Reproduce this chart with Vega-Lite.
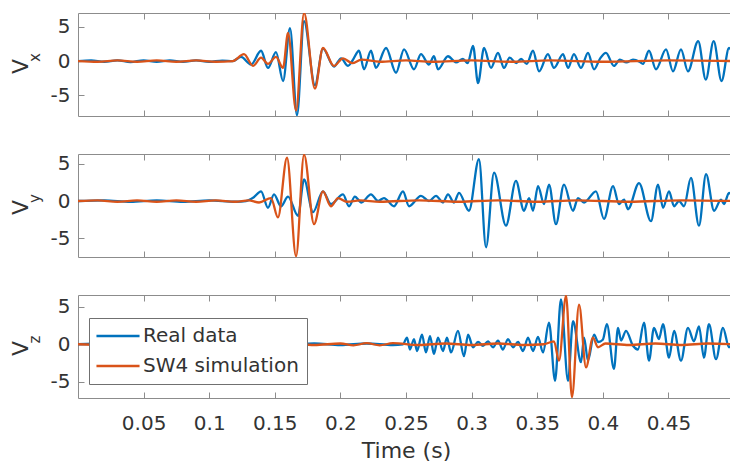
{
  "$schema": "https://vega.github.io/schema/vega-lite/v6.json",
  "padding": {"left": 8, "top": 12, "right": 0, "bottom": 0},
  "bounds": "flush",
  "spacing": 38,
  "datasets": {
    "d": [
      {"c":"x","s":"Real data","t":0,"v":0},{"c":"x","s":"Real data","t":0.01,"v":0.1},{"c":"x","s":"Real data","t":0.02,"v":-0.1},{"c":"x","s":"Real data","t":0.03,"v":0.1},{"c":"x","s":"Real data","t":0.04,"v":-0.15},{"c":"x","s":"Real data","t":0.05,"v":0.1},{"c":"x","s":"Real data","t":0.06,"v":-0.1},{"c":"x","s":"Real data","t":0.07,"v":0.1},{"c":"x","s":"Real data","t":0.08,"v":-0.1},{"c":"x","s":"Real data","t":0.09,"v":0.1},{"c":"x","s":"Real data","t":0.1,"v":-0.1},{"c":"x","s":"Real data","t":0.11,"v":0.05},{"c":"x","s":"Real data","t":0.118,"v":0},
      {"c":"x","s":"Real data","t":0.1242,"v":0.6},{"c":"x","s":"Real data","t":0.1319,"v":-0.5},{"c":"x","s":"Real data","t":0.1395,"v":1.5},{"c":"x","s":"Real data","t":0.1448,"v":-1.0},{"c":"x","s":"Real data","t":0.1509,"v":1.3},{"c":"x","s":"Real data","t":0.1563,"v":-2.9},{"c":"x","s":"Real data","t":0.1616,"v":4.8},{"c":"x","s":"Real data","t":0.1669,"v":-7.9},{"c":"x","s":"Real data","t":0.1723,"v":5.8},{"c":"x","s":"Real data","t":0.1806,"v":-3.5},{"c":"x","s":"Real data","t":0.1867,"v":1.8},{"c":"x","s":"Real data","t":0.1951,"v":-0.8},{"c":"x","s":"Real data","t":0.2005,"v":0.4},{"c":"x","s":"Real data","t":0.2058,"v":-0.7},{"c":"x","s":"Real data","t":0.2096,"v":0.2},{"c":"x","s":"Real data","t":0.2142,"v":1.5},{"c":"x","s":"Real data","t":0.218,"v":-1.2},{"c":"x","s":"Real data","t":0.2233,"v":1.5},{"c":"x","s":"Real data","t":0.2271,"v":-1.0},{"c":"x","s":"Real data","t":0.2348,"v":1.9},{"c":"x","s":"Real data","t":0.2424,"v":-1.7},{"c":"x","s":"Real data","t":0.2485,"v":1.7},{"c":"x","s":"Real data","t":0.2561,"v":-1.2},{"c":"x","s":"Real data","t":0.2614,"v":1.0},{"c":"x","s":"Real data","t":0.2675,"v":-0.5},{"c":"x","s":"Real data","t":0.2713,"v":0.7},{"c":"x","s":"Real data","t":0.2744,"v":-1.2},{"c":"x","s":"Real data","t":0.282,"v":0.7},{"c":"x","s":"Real data","t":0.2881,"v":-0.2},{"c":"x","s":"Real data","t":0.2934,"v":0.3},{"c":"x","s":"Real data","t":0.297,"v":-0.3},{"c":"x","s":"Real data","t":0.3011,"v":2.2},{"c":"x","s":"Real data","t":0.3049,"v":-3.2},{"c":"x","s":"Real data","t":0.3095,"v":1.9},{"c":"x","s":"Real data","t":0.3148,"v":-1.0},{"c":"x","s":"Real data","t":0.3201,"v":1.2},{"c":"x","s":"Real data","t":0.3247,"v":-1.0},{"c":"x","s":"Real data","t":0.329,"v":0.5},{"c":"x","s":"Real data","t":0.334,"v":-0.3},{"c":"x","s":"Real data","t":0.3377,"v":0.3},{"c":"x","s":"Real data","t":0.342,"v":-0.4},{"c":"x","s":"Real data","t":0.3468,"v":1.5},{"c":"x","s":"Real data","t":0.3514,"v":-1.5},{"c":"x","s":"Real data","t":0.3582,"v":1.0},{"c":"x","s":"Real data","t":0.3628,"v":-1.0},{"c":"x","s":"Real data","t":0.3697,"v":1.0},{"c":"x","s":"Real data","t":0.3735,"v":-1.0},{"c":"x","s":"Real data","t":0.378,"v":1.0},{"c":"x","s":"Real data","t":0.3834,"v":-1.0},{"c":"x","s":"Real data","t":0.3887,"v":1.2},{"c":"x","s":"Real data","t":0.3933,"v":-1.2},{"c":"x","s":"Real data","t":0.398,"v":0.4},{"c":"x","s":"Real data","t":0.4024,"v":1.2},{"c":"x","s":"Real data","t":0.4085,"v":-0.7},{"c":"x","s":"Real data","t":0.413,"v":0.2},{"c":"x","s":"Real data","t":0.418,"v":-0.2},{"c":"x","s":"Real data","t":0.423,"v":0.2},{"c":"x","s":"Real data","t":0.428,"v":-0.1},{"c":"x","s":"Real data","t":0.4306,"v":-0.4},{"c":"x","s":"Real data","t":0.4352,"v":1.5},{"c":"x","s":"Real data","t":0.4405,"v":-1.2},{"c":"x","s":"Real data","t":0.4482,"v":1.7},{"c":"x","s":"Real data","t":0.4535,"v":-1.5},{"c":"x","s":"Real data","t":0.4596,"v":1.7},{"c":"x","s":"Real data","t":0.4649,"v":-1.5},{"c":"x","s":"Real data","t":0.4727,"v":2.9},{"c":"x","s":"Real data","t":0.4785,"v":-2.7},{"c":"x","s":"Real data","t":0.4845,"v":2.9},{"c":"x","s":"Real data","t":0.4905,"v":-2.9},{"c":"x","s":"Real data","t":0.4962,"v":1.9},{"c":"x","s":"Real data","t":0.5,"v":0.5},

      {"c":"x","s":"SW4 simulation","t":0,"v":0},{"c":"x","s":"SW4 simulation","t":0.015,"v":-0.1},{"c":"x","s":"SW4 simulation","t":0.03,"v":0.1},{"c":"x","s":"SW4 simulation","t":0.045,"v":-0.1},{"c":"x","s":"SW4 simulation","t":0.06,"v":0.1},{"c":"x","s":"SW4 simulation","t":0.075,"v":-0.1},{"c":"x","s":"SW4 simulation","t":0.09,"v":0.1},{"c":"x","s":"SW4 simulation","t":0.105,"v":-0.1},{"c":"x","s":"SW4 simulation","t":0.118,"v":0},{"c":"x","s":"SW4 simulation","t":0.1265,"v":1.0},{"c":"x","s":"SW4 simulation","t":0.1334,"v":-0.7},{"c":"x","s":"SW4 simulation","t":0.1395,"v":0.5},{"c":"x","s":"SW4 simulation","t":0.1448,"v":-0.4},{"c":"x","s":"SW4 simulation","t":0.1509,"v":0.6},{"c":"x","s":"SW4 simulation","t":0.1563,"v":-1.0},{"c":"x","s":"SW4 simulation","t":0.1601,"v":4.1},{"c":"x","s":"SW4 simulation","t":0.1662,"v":-7.2},{"c":"x","s":"SW4 simulation","t":0.1723,"v":7.0},{"c":"x","s":"SW4 simulation","t":0.1806,"v":-4.0},{"c":"x","s":"SW4 simulation","t":0.1867,"v":1.9},{"c":"x","s":"SW4 simulation","t":0.1951,"v":-0.7},{"c":"x","s":"SW4 simulation","t":0.202,"v":0.4},{"c":"x","s":"SW4 simulation","t":0.209,"v":-0.3},{"c":"x","s":"SW4 simulation","t":0.216,"v":0.2},{"c":"x","s":"SW4 simulation","t":0.23,"v":-0.1},{"c":"x","s":"SW4 simulation","t":0.25,"v":0.1},{"c":"x","s":"SW4 simulation","t":0.27,"v":-0.1},{"c":"x","s":"SW4 simulation","t":0.3,"v":0.1},{"c":"x","s":"SW4 simulation","t":0.33,"v":-0.1},{"c":"x","s":"SW4 simulation","t":0.36,"v":0.1},{"c":"x","s":"SW4 simulation","t":0.4,"v":-0.1},{"c":"x","s":"SW4 simulation","t":0.45,"v":0.1},{"c":"x","s":"SW4 simulation","t":0.5,"v":0},

      {"c":"y","s":"Real data","t":0,"v":0},{"c":"y","s":"Real data","t":0.02,"v":0.1},{"c":"y","s":"Real data","t":0.04,"v":-0.1},{"c":"y","s":"Real data","t":0.06,"v":0.1},{"c":"y","s":"Real data","t":0.08,"v":-0.1},{"c":"y","s":"Real data","t":0.1,"v":0.1},{"c":"y","s":"Real data","t":0.12,"v":-0.1},{"c":"y","s":"Real data","t":0.128,"v":0},{"c":"y","s":"Real data","t":0.134,"v":0.5},{"c":"y","s":"Real data","t":0.1395,"v":1.3},{"c":"y","s":"Real data","t":0.1448,"v":-0.9},{"c":"y","s":"Real data","t":0.1494,"v":0.9},{"c":"y","s":"Real data","t":0.1547,"v":-0.7},{"c":"y","s":"Real data","t":0.1601,"v":0.6},{"c":"y","s":"Real data","t":0.1677,"v":-2.0},{"c":"y","s":"Real data","t":0.1723,"v":2.9},{"c":"y","s":"Real data","t":0.1791,"v":-1.5},{"c":"y","s":"Real data","t":0.1867,"v":1.3},{"c":"y","s":"Real data","t":0.1928,"v":-0.4},{"c":"y","s":"Real data","t":0.202,"v":0.9},{"c":"y","s":"Real data","t":0.2066,"v":-0.7},{"c":"y","s":"Real data","t":0.211,"v":0.6},{"c":"y","s":"Real data","t":0.216,"v":-0.2},{"c":"y","s":"Real data","t":0.2233,"v":0.9},{"c":"y","s":"Real data","t":0.2287,"v":0},{"c":"y","s":"Real data","t":0.2332,"v":0.4},{"c":"y","s":"Real data","t":0.2409,"v":-0.7},{"c":"y","s":"Real data","t":0.2477,"v":1.3},{"c":"y","s":"Real data","t":0.2523,"v":-0.7},{"c":"y","s":"Real data","t":0.2614,"v":0.7},{"c":"y","s":"Real data","t":0.2675,"v":0},{"c":"y","s":"Real data","t":0.2729,"v":0.7},{"c":"y","s":"Real data","t":0.2782,"v":-0.2},{"c":"y","s":"Real data","t":0.282,"v":0.9},{"c":"y","s":"Real data","t":0.2866,"v":-0.2},{"c":"y","s":"Real data","t":0.2904,"v":1.1},{"c":"y","s":"Real data","t":0.298,"v":-1.3},{"c":"y","s":"Real data","t":0.3056,"v":5.6},{"c":"y","s":"Real data","t":0.311,"v":-6.2},{"c":"y","s":"Real data","t":0.3171,"v":3.8},{"c":"y","s":"Real data","t":0.3262,"v":-3.3},{"c":"y","s":"Real data","t":0.3338,"v":2.7},{"c":"y","s":"Real data","t":0.3399,"v":-1.3},{"c":"y","s":"Real data","t":0.3438,"v":0.4},{"c":"y","s":"Real data","t":0.3468,"v":-1.3},{"c":"y","s":"Real data","t":0.3506,"v":2.0},{"c":"y","s":"Real data","t":0.3552,"v":-0.4},{"c":"y","s":"Real data","t":0.359,"v":2.2},{"c":"y","s":"Real data","t":0.3643,"v":-3.1},{"c":"y","s":"Real data","t":0.3704,"v":2.2},{"c":"y","s":"Real data","t":0.3773,"v":-1.3},{"c":"y","s":"Real data","t":0.3811,"v":0.4},{"c":"y","s":"Real data","t":0.3857,"v":-0.2},{"c":"y","s":"Real data","t":0.3948,"v":1.3},{"c":"y","s":"Real data","t":0.4009,"v":-2.4},{"c":"y","s":"Real data","t":0.4078,"v":2.0},{"c":"y","s":"Real data","t":0.4123,"v":-0.4},{"c":"y","s":"Real data","t":0.4162,"v":0.2},{"c":"y","s":"Real data","t":0.4192,"v":-1.1},{"c":"y","s":"Real data","t":0.4276,"v":2.4},{"c":"y","s":"Real data","t":0.4367,"v":-2.7},{"c":"y","s":"Real data","t":0.4421,"v":2.2},{"c":"y","s":"Real data","t":0.4459,"v":-0.9},{"c":"y","s":"Real data","t":0.4505,"v":1.3},{"c":"y","s":"Real data","t":0.4543,"v":-0.7},{"c":"y","s":"Real data","t":0.4581,"v":0},{"c":"y","s":"Real data","t":0.4619,"v":-0.7},{"c":"y","s":"Real data","t":0.4672,"v":3.1},{"c":"y","s":"Real data","t":0.4733,"v":-3.3},{"c":"y","s":"Real data","t":0.4787,"v":3.6},{"c":"y","s":"Real data","t":0.4848,"v":-1.3},{"c":"y","s":"Real data","t":0.4901,"v":0.2},{"c":"y","s":"Real data","t":0.4924,"v":-0.4},{"c":"y","s":"Real data","t":0.4962,"v":1.1},{"c":"y","s":"Real data","t":0.5,"v":0},

      {"c":"y","s":"SW4 simulation","t":0,"v":0},{"c":"y","s":"SW4 simulation","t":0.015,"v":0.1},{"c":"y","s":"SW4 simulation","t":0.03,"v":-0.1},{"c":"y","s":"SW4 simulation","t":0.045,"v":0.1},{"c":"y","s":"SW4 simulation","t":0.06,"v":-0.1},{"c":"y","s":"SW4 simulation","t":0.075,"v":0.1},{"c":"y","s":"SW4 simulation","t":0.09,"v":-0.1},{"c":"y","s":"SW4 simulation","t":0.105,"v":0.1},{"c":"y","s":"SW4 simulation","t":0.12,"v":-0.1},{"c":"y","s":"SW4 simulation","t":0.13,"v":0.1},{"c":"y","s":"SW4 simulation","t":0.138,"v":-0.2},{"c":"y","s":"SW4 simulation","t":0.1471,"v":0.4},{"c":"y","s":"SW4 simulation","t":0.1524,"v":-2.2},{"c":"y","s":"SW4 simulation","t":0.1593,"v":5.8},{"c":"y","s":"SW4 simulation","t":0.1662,"v":-7.4},{"c":"y","s":"SW4 simulation","t":0.1723,"v":6.2},{"c":"y","s":"SW4 simulation","t":0.1799,"v":-3.1},{"c":"y","s":"SW4 simulation","t":0.1867,"v":1.3},{"c":"y","s":"SW4 simulation","t":0.1928,"v":-0.7},{"c":"y","s":"SW4 simulation","t":0.1982,"v":0.4},{"c":"y","s":"SW4 simulation","t":0.205,"v":-0.1},{"c":"y","s":"SW4 simulation","t":0.215,"v":0.1},{"c":"y","s":"SW4 simulation","t":0.23,"v":-0.1},{"c":"y","s":"SW4 simulation","t":0.26,"v":0.1},{"c":"y","s":"SW4 simulation","t":0.29,"v":-0.1},{"c":"y","s":"SW4 simulation","t":0.32,"v":0.1},{"c":"y","s":"SW4 simulation","t":0.35,"v":-0.1},{"c":"y","s":"SW4 simulation","t":0.38,"v":0.1},{"c":"y","s":"SW4 simulation","t":0.42,"v":-0.1},{"c":"y","s":"SW4 simulation","t":0.46,"v":0.1},{"c":"y","s":"SW4 simulation","t":0.5,"v":0},

      {"c":"z","s":"Real data","t":0,"v":0},{"c":"z","s":"Real data","t":0.02,"v":0.1},{"c":"z","s":"Real data","t":0.04,"v":-0.1},{"c":"z","s":"Real data","t":0.06,"v":0.1},{"c":"z","s":"Real data","t":0.08,"v":-0.1},{"c":"z","s":"Real data","t":0.1,"v":0.1},{"c":"z","s":"Real data","t":0.12,"v":-0.1},{"c":"z","s":"Real data","t":0.14,"v":0.1},{"c":"z","s":"Real data","t":0.16,"v":-0.1},{"c":"z","s":"Real data","t":0.18,"v":0.1},{"c":"z","s":"Real data","t":0.2,"v":-0.1},{"c":"z","s":"Real data","t":0.22,"v":0.1},{"c":"z","s":"Real data","t":0.24,"v":-0.1},{"c":"z","s":"Real data","t":0.2477,"v":0},{"c":"z","s":"Real data","t":0.2508,"v":0.9},{"c":"z","s":"Real data","t":0.253,"v":-0.7},{"c":"z","s":"Real data","t":0.2561,"v":0.7},{"c":"z","s":"Real data","t":0.2584,"v":-0.9},{"c":"z","s":"Real data","t":0.2622,"v":1.3},{"c":"z","s":"Real data","t":0.2652,"v":-1.1},{"c":"z","s":"Real data","t":0.2683,"v":1.1},{"c":"z","s":"Real data","t":0.2713,"v":-1.3},{"c":"z","s":"Real data","t":0.2744,"v":0.9},{"c":"z","s":"Real data","t":0.2782,"v":-0.9},{"c":"z","s":"Real data","t":0.2812,"v":0.9},{"c":"z","s":"Real data","t":0.2843,"v":-1.1},{"c":"z","s":"Real data","t":0.2896,"v":1.8},{"c":"z","s":"Real data","t":0.2942,"v":-1.6},{"c":"z","s":"Real data","t":0.2973,"v":1.3},{"c":"z","s":"Real data","t":0.3011,"v":-0.4},{"c":"z","s":"Real data","t":0.3049,"v":0.3},{"c":"z","s":"Real data","t":0.3087,"v":-0.2},{"c":"z","s":"Real data","t":0.3125,"v":0.4},{"c":"z","s":"Real data","t":0.3163,"v":-0.4},{"c":"z","s":"Real data","t":0.3201,"v":0.5},{"c":"z","s":"Real data","t":0.3239,"v":-0.7},{"c":"z","s":"Real data","t":0.3277,"v":0.7},{"c":"z","s":"Real data","t":0.3316,"v":-0.4},{"c":"z","s":"Real data","t":0.3354,"v":0.3},{"c":"z","s":"Real data","t":0.3392,"v":-0.9},{"c":"z","s":"Real data","t":0.343,"v":0.9},{"c":"z","s":"Real data","t":0.3468,"v":-0.9},{"c":"z","s":"Real data","t":0.3506,"v":1.0},{"c":"z","s":"Real data","t":0.3544,"v":-1.1},{"c":"z","s":"Real data","t":0.359,"v":2.9},{"c":"z","s":"Real data","t":0.3636,"v":-4.9},{"c":"z","s":"Real data","t":0.3681,"v":6.0},{"c":"z","s":"Real data","t":0.3735,"v":-4.9},{"c":"z","s":"Real data","t":0.3773,"v":3.1},{"c":"z","s":"Real data","t":0.3834,"v":-2.4},{"c":"z","s":"Real data","t":0.3857,"v":0.9},{"c":"z","s":"Real data","t":0.3887,"v":-2.2},{"c":"z","s":"Real data","t":0.3933,"v":1.3},{"c":"z","s":"Real data","t":0.3965,"v":0.3},{"c":"z","s":"Real data","t":0.4,"v":0.6},{"c":"z","s":"Real data","t":0.4031,"v":2.7},{"c":"z","s":"Real data","t":0.4085,"v":-3.3},{"c":"z","s":"Real data","t":0.4116,"v":2.2},{"c":"z","s":"Real data","t":0.4139,"v":0.5},{"c":"z","s":"Real data","t":0.4177,"v":1.8},{"c":"z","s":"Real data","t":0.423,"v":-0.2},{"c":"z","s":"Real data","t":0.4268,"v":-0.7},{"c":"z","s":"Real data","t":0.4314,"v":2.9},{"c":"z","s":"Real data","t":0.4352,"v":-2.2},{"c":"z","s":"Real data","t":0.439,"v":2.2},{"c":"z","s":"Real data","t":0.4428,"v":0.7},{"c":"z","s":"Real data","t":0.4459,"v":2.7},{"c":"z","s":"Real data","t":0.4505,"v":-1.8},{"c":"z","s":"Real data","t":0.4543,"v":1.8},{"c":"z","s":"Real data","t":0.4596,"v":-2.2},{"c":"z","s":"Real data","t":0.4649,"v":2.2},{"c":"z","s":"Real data","t":0.4695,"v":0.4},{"c":"z","s":"Real data","t":0.4733,"v":2.4},{"c":"z","s":"Real data","t":0.4771,"v":-1.8},{"c":"z","s":"Real data","t":0.4809,"v":2.7},{"c":"z","s":"Real data","t":0.4863,"v":-2.0},{"c":"z","s":"Real data","t":0.4916,"v":2.2},{"c":"z","s":"Real data","t":0.4962,"v":-0.4},{"c":"z","s":"Real data","t":0.5,"v":1.0},

      {"c":"z","s":"SW4 simulation","t":0,"v":0},{"c":"z","s":"SW4 simulation","t":0.02,"v":-0.1},{"c":"z","s":"SW4 simulation","t":0.04,"v":0.1},{"c":"z","s":"SW4 simulation","t":0.06,"v":-0.1},{"c":"z","s":"SW4 simulation","t":0.08,"v":0.1},{"c":"z","s":"SW4 simulation","t":0.1,"v":-0.1},{"c":"z","s":"SW4 simulation","t":0.12,"v":0.1},{"c":"z","s":"SW4 simulation","t":0.14,"v":-0.1},{"c":"z","s":"SW4 simulation","t":0.16,"v":0.1},{"c":"z","s":"SW4 simulation","t":0.18,"v":-0.1},{"c":"z","s":"SW4 simulation","t":0.2,"v":0.1},{"c":"z","s":"SW4 simulation","t":0.21,"v":-0.15},{"c":"z","s":"SW4 simulation","t":0.22,"v":0.15},{"c":"z","s":"SW4 simulation","t":0.23,"v":-0.15},{"c":"z","s":"SW4 simulation","t":0.24,"v":0.15},{"c":"z","s":"SW4 simulation","t":0.26,"v":-0.1},{"c":"z","s":"SW4 simulation","t":0.28,"v":0.1},{"c":"z","s":"SW4 simulation","t":0.3,"v":-0.1},{"c":"z","s":"SW4 simulation","t":0.32,"v":0.1},{"c":"z","s":"SW4 simulation","t":0.34,"v":-0.1},{"c":"z","s":"SW4 simulation","t":0.3552,"v":0},{"c":"z","s":"SW4 simulation","t":0.3628,"v":0.4},{"c":"z","s":"SW4 simulation","t":0.3666,"v":-2.2},{"c":"z","s":"SW4 simulation","t":0.372,"v":6.5},{"c":"z","s":"SW4 simulation","t":0.3765,"v":-7.1},{"c":"z","s":"SW4 simulation","t":0.3819,"v":5.3},{"c":"z","s":"SW4 simulation","t":0.3872,"v":-3.1},{"c":"z","s":"SW4 simulation","t":0.3925,"v":0.9},{"c":"z","s":"SW4 simulation","t":0.3963,"v":-0.4},{"c":"z","s":"SW4 simulation","t":0.402,"v":0.1},{"c":"z","s":"SW4 simulation","t":0.42,"v":-0.1},{"c":"z","s":"SW4 simulation","t":0.44,"v":0.1},{"c":"z","s":"SW4 simulation","t":0.46,"v":-0.1},{"c":"z","s":"SW4 simulation","t":0.48,"v":0.1},{"c":"z","s":"SW4 simulation","t":0.5,"v":0}
    ]
  },
  "vconcat": [
    {
      "width": 656, "height": 103,
      "layer": [
        {
          "data": {"name": "d"},
          "transform": [{"filter": "datum.c === 'x' && datum.s === 'Real data'"}],
          "mark": {"type": "line", "interpolate": "monotone", "strokeWidth": 2.3, "clip": true},
          "encoding": {
            "x": {"field": "t", "type": "quantitative", "scale": {"domain": [0, 0.5], "nice": false, "zero": false}, "axis": {"orient": "bottom", "values": [0.05,0.1,0.15,0.2,0.25,0.3,0.35,0.4,0.45], "labels": false, "title": null}},
            "y": {"field": "v", "type": "quantitative", "scale": {"domain": [-8, 7], "nice": false, "zero": false}, "axis": {"orient": "left", "values": [-5,0,5], "labelExpr": "'' + datum.value", "labelPadding": 14, "title": "V", "titleFontSize": 22, "titleX": -51, "titleY": 53, "titleAngle": -90, "titleAlign": "center", "titleBaseline": "alphabetic"}},
            "color": {"value": "#0072BD"}
          }
        },
        {
          "data": {"name": "d"},
          "transform": [{"filter": "datum.c === 'x' && datum.s === 'SW4 simulation'"}],
          "mark": {"type": "line", "interpolate": "monotone", "strokeWidth": 2.3, "clip": true},
          "encoding": {
            "x": {"field": "t", "type": "quantitative", "scale": {"domain": [0, 0.5], "nice": false, "zero": false}, "axis": {"orient": "top", "values": [0.05,0.1,0.15,0.2,0.25,0.3,0.35,0.4,0.45], "labels": false, "title": null}},
            "y": {"field": "v", "type": "quantitative", "scale": {"domain": [-8, 7], "nice": false, "zero": false}, "axis": {"orient": "left", "labels": false, "ticks": false, "title": "x", "titleFontSize": 15, "titleX": -39, "titleY": 44, "titleAngle": -90, "titleAlign": "center", "titleBaseline": "alphabetic"}},
            "color": {"value": "#D95319"}
          }
        }
      ],
      "resolve": {"scale": {"y": "independent"}, "axis": {"x": "independent", "y": "independent"}}
    },
    {
      "width": 656, "height": 103,
      "layer": [
        {
          "data": {"name": "d"},
          "transform": [{"filter": "datum.c === 'y' && datum.s === 'Real data'"}],
          "mark": {"type": "line", "interpolate": "monotone", "strokeWidth": 2.3, "clip": true},
          "encoding": {
            "x": {"field": "t", "type": "quantitative", "scale": {"domain": [0, 0.5], "nice": false, "zero": false}, "axis": {"orient": "bottom", "values": [0.05,0.1,0.15,0.2,0.25,0.3,0.35,0.4,0.45], "labels": false, "title": null}},
            "y": {"field": "v", "type": "quantitative", "scale": {"domain": [-7.5, 6.3], "nice": false, "zero": false}, "axis": {"orient": "left", "values": [-5,0,5], "labelExpr": "'' + datum.value", "labelPadding": 14, "title": "V", "titleFontSize": 22, "titleX": -51, "titleY": 53, "titleAngle": -90, "titleAlign": "center", "titleBaseline": "alphabetic"}},
            "color": {"value": "#0072BD"}
          }
        },
        {
          "data": {"name": "d"},
          "transform": [{"filter": "datum.c === 'y' && datum.s === 'SW4 simulation'"}],
          "mark": {"type": "line", "interpolate": "monotone", "strokeWidth": 2.3, "clip": true},
          "encoding": {
            "x": {"field": "t", "type": "quantitative", "scale": {"domain": [0, 0.5], "nice": false, "zero": false}, "axis": {"orient": "top", "values": [0.05,0.1,0.15,0.2,0.25,0.3,0.35,0.4,0.45], "labels": false, "title": null}},
            "y": {"field": "v", "type": "quantitative", "scale": {"domain": [-7.5, 6.3], "nice": false, "zero": false}, "axis": {"orient": "left", "labels": false, "ticks": false, "title": "y", "titleFontSize": 15, "titleX": -39, "titleY": 44, "titleAngle": -90, "titleAlign": "center", "titleBaseline": "alphabetic"}},
            "color": {"value": "#D95319"}
          }
        }
      ],
      "resolve": {"scale": {"y": "independent"}, "axis": {"x": "independent", "y": "independent"}}
    },
    {
      "width": 656, "height": 103,
      "layer": [
        {
          "data": {"name": "d"},
          "transform": [{"filter": "datum.c === 'z' && datum.s === 'Real data'"}],
          "mark": {"type": "line", "interpolate": "monotone", "strokeWidth": 2.3, "clip": true},
          "encoding": {
            "x": {"field": "t", "type": "quantitative", "scale": {"domain": [0, 0.5], "nice": false, "zero": false}, "axis": {"orient": "bottom", "values": [0.05,0.1,0.15,0.2,0.25,0.3,0.35,0.4,0.45], "labelExpr": "'' + datum.value", "labelPadding": 21, "title": "Time (s)", "titleFontSize": 22, "titlePadding": 7}},
            "y": {"field": "v", "type": "quantitative", "scale": {"domain": [-7.2, 6.6], "nice": false, "zero": false}, "axis": {"orient": "left", "values": [-5,0,5], "labelExpr": "'' + datum.value", "labelPadding": 14, "title": "V", "titleFontSize": 22, "titleX": -51, "titleY": 53, "titleAngle": -90, "titleAlign": "center", "titleBaseline": "alphabetic"}},
            "color": {"field": "s", "type": "nominal", "scale": {"domain": ["Real data", "SW4 simulation"], "range": ["#0072BD", "#D95319"]}}
          }
        },
        {
          "data": {"name": "d"},
          "transform": [{"filter": "datum.c === 'z' && datum.s === 'SW4 simulation'"}],
          "mark": {"type": "line", "interpolate": "monotone", "strokeWidth": 2.3, "clip": true},
          "encoding": {
            "x": {"field": "t", "type": "quantitative", "scale": {"domain": [0, 0.5], "nice": false, "zero": false}, "axis": {"orient": "top", "values": [0.05,0.1,0.15,0.2,0.25,0.3,0.35,0.4,0.45], "labels": false, "title": null}},
            "y": {"field": "v", "type": "quantitative", "scale": {"domain": [-7.2, 6.6], "nice": false, "zero": false}, "axis": {"orient": "left", "labels": false, "ticks": false, "title": "z", "titleFontSize": 15, "titleX": -39, "titleY": 44, "titleAngle": -90, "titleAlign": "center", "titleBaseline": "alphabetic"}},
            "color": {"field": "s", "type": "nominal", "scale": {"domain": ["Real data", "SW4 simulation"], "range": ["#0072BD", "#D95319"]}}
          }
        }
      ],
      "resolve": {"scale": {"y": "independent"}, "axis": {"x": "independent", "y": "independent"}}
    }
  ],
  "resolve": {"legend": {"color": "independent"}},
  "config": {
    "font": "DejaVu Sans",
    "view": {"stroke": "#8c8c8c", "strokeWidth": 1},
    "axis": {"domain": false, "grid": false, "tickColor": "#8c8c8c", "tickSize": -6, "tickWidth": 1, "labelColor": "#333333", "titleColor": "#333333", "labelFont": "DejaVu Sans", "titleFont": "DejaVu Sans", "labelFontSize": 20, "titleFontWeight": "normal"},
    "legend": {"orient": "none", "legendX": 11, "legendY": 23, "title": null, "fillColor": "white", "strokeColor": "#707070", "padding": 8, "labelFont": "DejaVu Sans", "labelFontSize": 20, "labelColor": "#333333", "symbolType": "M-4,0H4", "symbolSize": 116, "symbolStrokeWidth": 2.5, "rowPadding": 10, "symbolOffset": 11, "labelOffset": 15}
  }
}
